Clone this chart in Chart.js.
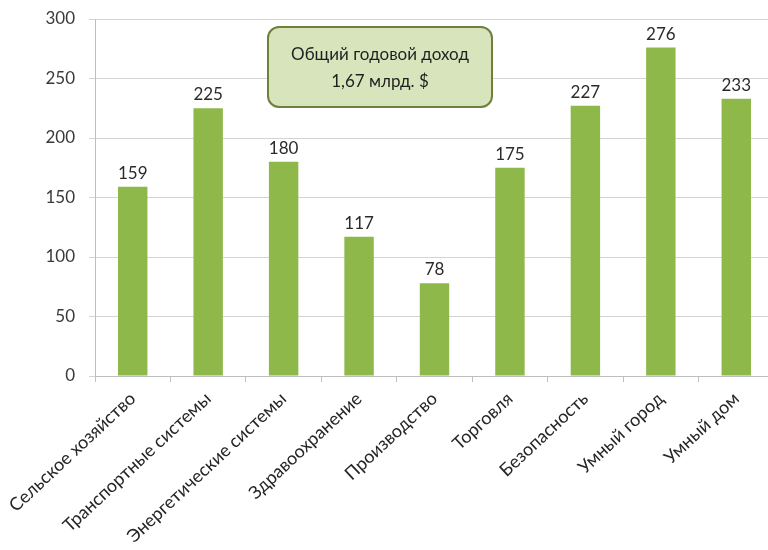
<!DOCTYPE html>
<html><head><meta charset="utf-8">
<script src="https://cdn.jsdelivr.net/npm/chart.js@4"></script>
<style>
html,body{margin:0;padding:0;background:#fff;overflow:hidden;width:768px;height:550px;}
#wrap{width:774px;height:550px;position:relative;}
</style></head>
<body><div id="wrap"><canvas id="c"></canvas></div>
<script>
const categories = ["Сельское хозяйство","Транспортные системы","Энергетические системы","Здравоохранение","Производство","Торговля","Безопасность","Умный город","Умный дом"];
const revenue = [159,225,180,117,78,175,227,276,233];
const yTicks = [0,50,100,150,200,250,300];
const noteLines = ["Общий годовой доход","1,67 млрд. $"];

const FONT = "Lato, 'Open Sans', sans-serif";

const valueLabels = {
  id:'valueLabels',
  afterDatasetsDraw(chart){
    const ctx = chart.ctx;
    const meta = chart.getDatasetMeta(0);
    ctx.save();
    ctx.font = "17px " + FONT;
    ctx.fillStyle = "#2b2b2b";
    ctx.textAlign = "center";
    ctx.textBaseline = "bottom";
    meta.data.forEach((bar,i)=>{
      ctx.fillText(String(revenue[i]), bar.x, bar.y - 5);
    });
    ctx.restore();
  }
};

const noteBox = {
  id:'noteBox',
  afterDraw(chart){
    const ctx = chart.ctx;
    const x = 268, y = 27, w = 224, h = 80, r = 11;
    ctx.save();
    ctx.beginPath();
    ctx.roundRect(x, y, w, h, r);
    ctx.fillStyle = "#d8e4bc";
    ctx.fill();
    ctx.lineWidth = 2;
    ctx.strokeStyle = "#6e7f3e";
    ctx.stroke();
    ctx.fillStyle = "#1f1f1f";
    ctx.font = "17px " + FONT;
    ctx.textAlign = "center";
    ctx.textBaseline = "middle";
    ctx.fillText(noteLines[0], x + w/2, y + 28);
    ctx.fillText(noteLines[1], x + w/2, y + 55);
    ctx.restore();
  }
};

new Chart(document.getElementById('c'), {
  type:'bar',
  data:{
    labels: categories,
    datasets:[{
      data: revenue,
      backgroundColor:"#8fb84a",
      borderWidth:0,
      barPercentage:0.39,
      categoryPercentage:1
    }]
  },
  options:{
    responsive:true,
    maintainAspectRatio:false,
    animation:false,
    events:[],
    layout:{padding:{top:19,right:0,left:0,bottom:0}},
    plugins:{legend:{display:false},tooltip:{enabled:false}},
    scales:{
      x:{
        offset:true,
        grid:{drawOnChartArea:false,drawTicks:true,tickLength:6,color:"#bfbfbf",offset:true},
        border:{color:"#bfbfbf",width:1},
        ticks:{minRotation:43,maxRotation:43,autoSkip:false,color:"#262626",font:{family:FONT,size:18},padding:6},
        afterFit(scale){ scale.height = 174; }
      },
      y:{
        min:0,max:300,
        afterBuildTicks(scale){ scale.ticks = yTicks.map(v=>({value:v})); },
        grid:{color:"#d4d4d4",tickLength:6,drawTicks:true},
        border:{color:"#bfbfbf",width:1},
        ticks:{color:"#3a3a3a",font:{family:FONT,size:17},padding:14},
        afterFit(scale){ scale.width = 95; scale.paddingTop = 0; scale.paddingBottom = 0; }
      }
    }
  },
  plugins:[valueLabels,noteBox]
});
</script>
</body></html>
